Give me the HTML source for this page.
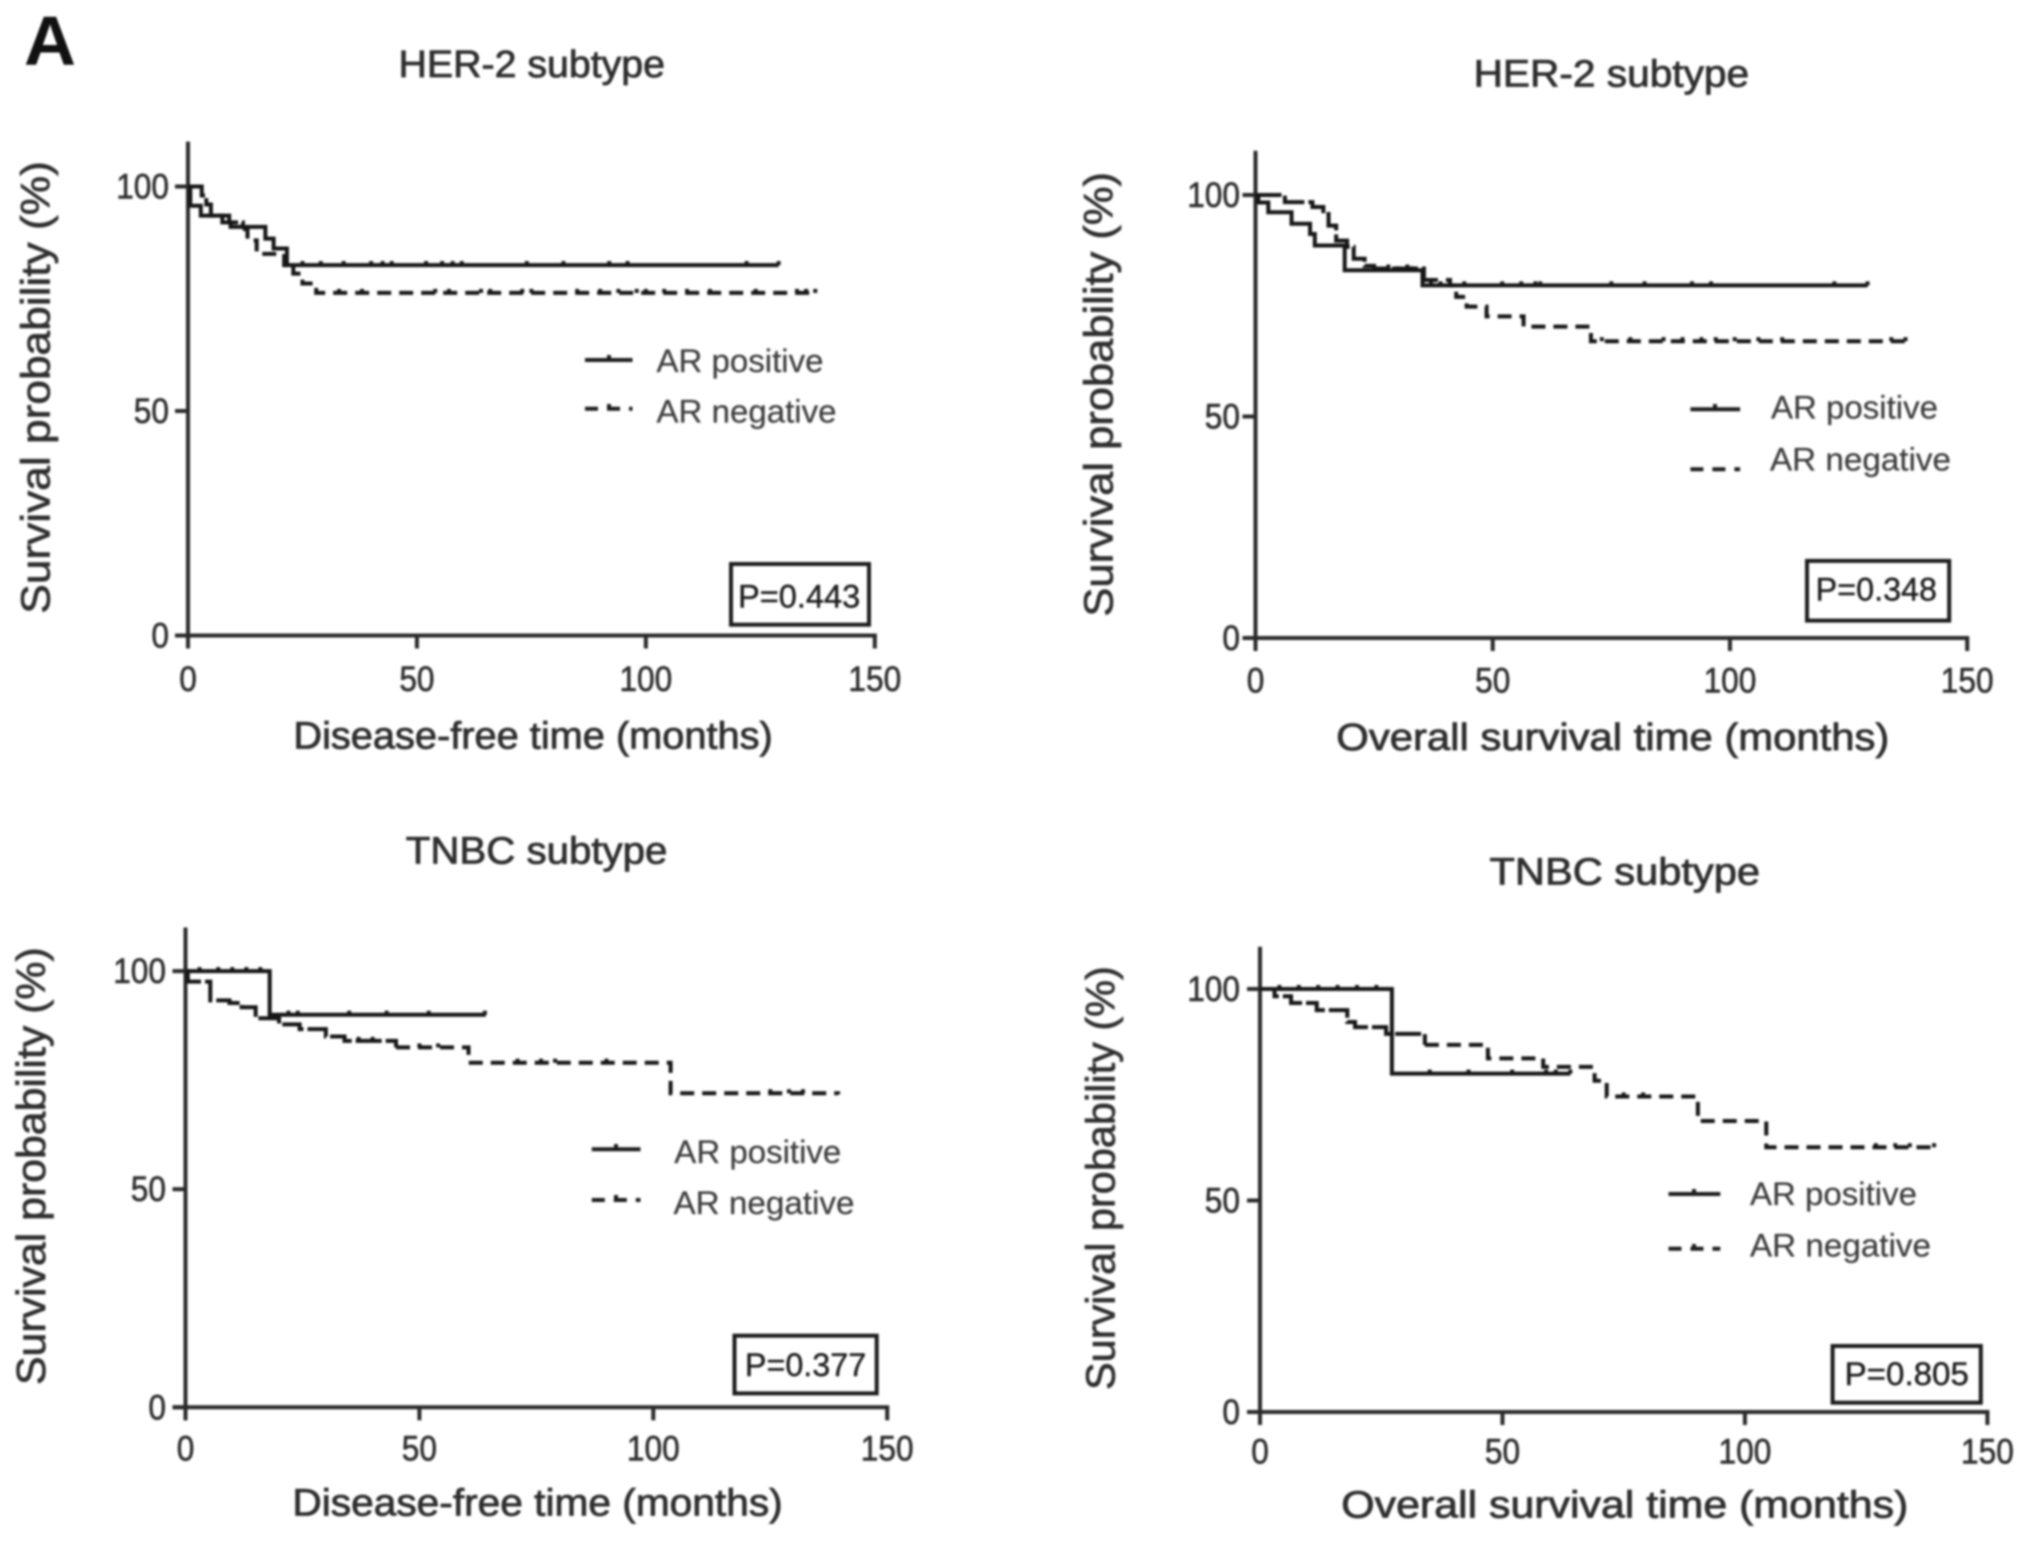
<!DOCTYPE html>
<html lang="en">
<head>
<meta charset="utf-8">
<title>Survival curves by AR status</title>
<style>
html,body{margin:0;padding:0;background:#fff;width:2031px;height:1541px;overflow:hidden}
svg{display:block;filter:blur(1px)}
text{font-family:"Liberation Sans",Arial,sans-serif;fill:#2e2e2e}
.title{font-size:38px;stroke:#2e2e2e;stroke-width:.8px}
.axt{font-size:38px;stroke:#2e2e2e;stroke-width:.8px}
.yt{font-size:41px;stroke:#333;stroke-width:.7px}
.tick{font-size:35px;stroke:#2e2e2e;stroke-width:.6px}
.leg{font-size:32px;fill:#3c3c3c;stroke:#3c3c3c;stroke-width:.2px}
.p{font-size:32px;fill:#1c1c1c;stroke:#1c1c1c;stroke-width:.4px}
.pbox{fill:none;stroke:#1c1c1c;stroke-width:4}
.legs{stroke:#1c1c1c;stroke-width:4;fill:none}
.legd{stroke:#1c1c1c;stroke-width:4;fill:none;stroke-dasharray:13 9}
</style>
</head>
<body>
<svg id="figure" xmlns="http://www.w3.org/2000/svg" width="2031" height="1541" viewBox="0 0 2031 1541">
<rect width="2031" height="1541" fill="#fff"/>
<text x="24" y="65" font-size="70" font-weight="bold" style="fill:#111" textLength="52" lengthAdjust="spacingAndGlyphs">A</text>

<g id="panelA">
<text class="title" x="398.5" y="77" textLength="266.5" lengthAdjust="spacingAndGlyphs">HER-2 subtype</text>
<text class="axt" x="293.4" y="748.5" textLength="479.4" lengthAdjust="spacingAndGlyphs">Disease-free time (months)</text>
<text class="yt" transform="translate(49.7,613.7) rotate(-90)" textLength="452.5" lengthAdjust="spacingAndGlyphs">Survival probability (%)</text>
<g>
<line class="legs" x1="585" x2="632.5" y1="360" y2="360"/>
<line class="legs" x1="609" x2="609" y1="355" y2="360"/>
<line class="legd" x1="585" x2="632.5" y1="408.8" y2="408.8"/>
<line class="legs" x1="609" x2="609" y1="404" y2="409"/>
<text class="leg" x="656.5" y="372" textLength="167" lengthAdjust="spacingAndGlyphs">AR positive</text>
<text class="leg" x="656.5" y="422.7" textLength="180" lengthAdjust="spacingAndGlyphs">AR negative</text>
</g>
<rect class="pbox" x="731" y="564" width="138" height="60.7"/>
<text class="p" x="738" y="607.7" textLength="122.3" lengthAdjust="spacingAndGlyphs">P=0.443</text>
</g>

<g id="panelB">
<text class="title" x="1473.6" y="86.5" textLength="275.5" lengthAdjust="spacingAndGlyphs">HER-2 subtype</text>
<text class="axt" x="1336.3" y="750" textLength="553" lengthAdjust="spacingAndGlyphs">Overall survival time (months)</text>
<text class="yt" transform="translate(1112.6,616.6) rotate(-90)" textLength="444.6" lengthAdjust="spacingAndGlyphs">Survival probability (%)</text>
<g>
<line class="legs" x1="1690.4" x2="1740.1" y1="409.3" y2="409.3"/>
<line class="legs" x1="1715" x2="1715" y1="404" y2="409"/>
<line class="legd" x1="1690.4" x2="1740.1" y1="469.3" y2="469.3"/>
<text class="leg" x="1771" y="418.5" textLength="167" lengthAdjust="spacingAndGlyphs">AR positive</text>
<text class="leg" x="1770" y="470.7" textLength="181" lengthAdjust="spacingAndGlyphs">AR negative</text>
</g>
<rect class="pbox" x="1807" y="560.9" width="142.2" height="59.7"/>
<text class="p" x="1815.7" y="600.7" textLength="121.3" lengthAdjust="spacingAndGlyphs">P=0.348</text>
</g>

<g id="panelC">
<text class="title" x="405.8" y="863.7" textLength="261.6" lengthAdjust="spacingAndGlyphs">TNBC subtype</text>
<text class="axt" x="292.4" y="1515.3" textLength="490.3" lengthAdjust="spacingAndGlyphs">Disease-free time (months)</text>
<text class="yt" transform="translate(44.8,1385) rotate(-90)" textLength="437.7" lengthAdjust="spacingAndGlyphs">Survival probability (%)</text>
<g>
<line class="legs" x1="591.8" x2="640.5" y1="1149.2" y2="1149.2"/>
<line class="legs" x1="616" x2="616" y1="1144" y2="1149"/>
<line class="legd" x1="591.8" x2="640.5" y1="1200" y2="1200"/>
<line class="legs" x1="616" x2="616" y1="1195" y2="1200"/>
<text class="leg" x="674.3" y="1163.1" textLength="167" lengthAdjust="spacingAndGlyphs">AR positive</text>
<text class="leg" x="673.5" y="1213.8" textLength="181" lengthAdjust="spacingAndGlyphs">AR negative</text>
</g>
<rect class="pbox" x="734.5" y="1335.7" width="142.2" height="57.7"/>
<text class="p" x="744.9" y="1376" textLength="121.3" lengthAdjust="spacingAndGlyphs">P=0.377</text>
</g>

<g id="panelD">
<text class="title" x="1489.5" y="884.6" textLength="270.5" lengthAdjust="spacingAndGlyphs">TNBC subtype</text>
<text class="axt" x="1341.3" y="1517.3" textLength="567" lengthAdjust="spacingAndGlyphs">Overall survival time (months)</text>
<text class="yt" transform="translate(1114.5,1390) rotate(-90)" textLength="423.8" lengthAdjust="spacingAndGlyphs">Survival probability (%)</text>
<g>
<line class="legs" x1="1668.5" x2="1720.3" y1="1194" y2="1194"/>
<line class="legs" x1="1694" x2="1694" y1="1189" y2="1194"/>
<line class="legd" x1="1668.5" x2="1720.3" y1="1248.7" y2="1248.7"/>
<line class="legs" x1="1694" x2="1694" y1="1244" y2="1249"/>
<text class="leg" x="1750" y="1204.9" textLength="167" lengthAdjust="spacingAndGlyphs">AR positive</text>
<text class="leg" x="1750" y="1256.6" textLength="181" lengthAdjust="spacingAndGlyphs">AR negative</text>
</g>
<rect class="pbox" x="1832.6" y="1346" width="148.2" height="56.7"/>
<text class="p" x="1844.6" y="1385" textLength="124.3" lengthAdjust="spacingAndGlyphs">P=0.805</text>
</g>
</svg>

<script>
// Shared axis values
const xTickValues = [0, 50, 100, 150];
const yTickValues = [0, 50, 100];
const xMax = 150;
const yMax = 100;
const yAxisTop = 110;

// Panel A: HER-2, disease-free
const aPosTime = [0, 0.5, 2.8, 7.5, 9.3, 11.3, 16.9, 18.7, 21.6, 129];
const aPosSurv = [100, 95.7, 93.5, 92, 91, 91, 88.4, 86.2, 82.5, 82.5];
const aPosCensor = [25, 29, 34, 40, 42.5, 44.5, 52, 55.5, 57.8, 59.8, 74, 82, 92, 96, 122, 129];
const aNegTime = [0, 3, 4, 5, 9, 12, 13, 15, 21, 23, 25, 28, 137];
const aNegSurv = [100, 98, 96, 93.5, 92, 90.5, 88, 85, 82.5, 80.6, 78.4, 76.3, 76.3];
const aNegCensor = [33, 38, 54, 57, 64, 66, 73, 75, 85, 90, 94, 98, 100, 104, 109, 114, 124, 133, 135, 137];

// Panel B: HER-2, overall
const bPosTime = [0, 0.6, 2.7, 7.6, 11.5, 12.5, 18.8, 35.2, 129];
const bPosSurv = [100, 98.3, 96.1, 93.5, 91.2, 88.6, 83, 79.6, 79.6];
const bPosCensor = [25, 30, 33, 37, 39, 41, 44, 52, 56, 59, 60, 75, 82, 92, 96, 122, 129];
const bNegTime = [0, 6.2, 10.8, 12, 14.3, 15.4, 17, 19.3, 20.7, 23, 25, 35.5, 41, 42.3, 44.5, 48.7, 56.5, 70.7, 138];
const bNegSurv = [100, 98.4, 98.4, 97.3, 95.7, 93.1, 89.7, 88.3, 85.6, 84, 83.4, 80.8, 79.6, 77, 74.8, 72.6, 70.3, 67, 66.7];
const bNegCensor = [28, 32, 73, 79, 86, 90, 94, 97, 101, 106, 111, 134, 137];

// Panel C: TNBC, disease-free
const cPosTime = [0, 18, 64.2];
const cPosSurv = [100, 90, 90];
const cPosCensor = [3, 7, 10, 13, 16, 22, 24, 35, 43, 52, 64];
const cNegTime = [0, 0.5, 5.3, 9.4, 12, 15, 20, 24.4, 30, 34, 45, 60.5, 103.7, 139.5];
const cNegSurv = [100, 97.6, 93.3, 92.7, 91.7, 89.2, 87.8, 86.7, 85, 84, 82.5, 79, 72, 71.7];
const cNegCensor = [37, 40, 50, 54, 71, 76, 79, 90, 125, 129, 132];

// Panel D: TNBC, overall
const dPosTime = [0, 27.2, 64];
const dPosSurv = [100, 80, 80];
const dPosCensor = [4, 8, 12, 16, 20, 24, 35, 43, 52, 59, 61, 64];
const dNegTime = [0, 3, 6.4, 11.7, 18, 19.6, 26, 34, 47, 58.4, 69, 71.5, 90.3, 104.4, 139];
const dNegSurv = [100, 98.3, 96.7, 95, 92.2, 91, 89.4, 86.8, 83.6, 81.6, 78.3, 74.6, 68.8, 62.6, 62.6];
const dNegCensor = [75, 79, 127, 131, 134, 139];

const SVG_NS = 'http://www.w3.org/2000/svg';

function make(tag, parent) {
  const node = document.createElementNS(SVG_NS, tag);
  parent.appendChild(node);
  return node;
}

function stepPath(time, surv, xScale, yScale, from, to) {
  let d = 'M' + xScale(time[from]) + ' ' + yScale(surv[from]);
  for (let i = from + 1; i <= to; i++) {
    d += ' H' + xScale(time[i]) + ' V' + yScale(surv[i]);
  }
  return d;
}

function buildPanel(cfg) {
  const root = document.getElementById(cfg.id);
  const xScale = function (t) { return cfg.x0 + (t / xMax) * (cfg.x1 - cfg.x0); };
  const yScale = function (s) { return cfg.y0 + (s / yMax) * (cfg.y100 - cfg.y0); };

  // Axes
  const yAxis = make('line', root);
  
  
  yAxis.setAttribute('x1', xScale(0));
  yAxis.setAttribute('x2', xScale(0));
  yAxis.setAttribute('y1', yScale(yAxisTop));
  yAxis.setAttribute('y2', yScale(0) + 13);
  yAxis.setAttribute('stroke', '#2a2a2a');
  yAxis.setAttribute('stroke-width', '4');

  const xAxis = make('line', root);
  
  
  xAxis.setAttribute('x1', xScale(0) - 13);
  xAxis.setAttribute('x2', xScale(xMax) + 2);
  xAxis.setAttribute('y1', yScale(0));
  xAxis.setAttribute('y2', yScale(0));
  xAxis.setAttribute('stroke', '#2a2a2a');
  xAxis.setAttribute('stroke-width', '4');

  xTickValues.forEach(function (v) {
    const tick = make('line', root);
    
    
    tick.setAttribute('x1', xScale(v));
    tick.setAttribute('x2', xScale(v));
    tick.setAttribute('y1', yScale(0));
    tick.setAttribute('y2', yScale(0) + 13);
    tick.setAttribute('stroke', '#2a2a2a');
    tick.setAttribute('stroke-width', '4');

    const label = make('text', root);
    
    
    label.setAttribute('class', 'tick');
    label.setAttribute('x', xScale(v));
    label.setAttribute('y', cfg.xLabelY);
    label.setAttribute('text-anchor', 'middle');
    label.setAttribute('textLength', String(v).length * 17.6);
    label.setAttribute('lengthAdjust', 'spacingAndGlyphs');
    label.textContent = String(v);
  });

  yTickValues.forEach(function (v) {
    const tick = make('line', root);
    
    
    tick.setAttribute('x1', xScale(0) - 13);
    tick.setAttribute('x2', xScale(0));
    tick.setAttribute('y1', yScale(v));
    tick.setAttribute('y2', yScale(v));
    tick.setAttribute('stroke', '#2a2a2a');
    tick.setAttribute('stroke-width', '4');

    const label = make('text', root);
    
    
    label.setAttribute('class', 'tick');
    label.setAttribute('x', cfg.yLabelX);
    label.setAttribute('y', yScale(v) + 12);
    label.setAttribute('text-anchor', 'end');
    label.setAttribute('textLength', String(v).length * 17.6);
    label.setAttribute('lengthAdjust', 'spacingAndGlyphs');
    label.textContent = String(v);
  });

  cfg.series.forEach(function (s) {
    const last = s.time.length - 1;
    let split = last;
    if (s.dashed) {
      split = 0;
      for (let i = 0; i <= last; i++) {
        if (s.time[i] <= cfg.denseUntil) { split = i; }
      }
    }

    const curve = make('path', root);
    
    
    curve.setAttribute('d', stepPath(s.time, s.surv, xScale, yScale, 0, split));
    curve.setAttribute('fill', 'none');
    curve.setAttribute('stroke', '#161616');
    curve.setAttribute('stroke-width', '4');
    if (s.dashed) {
      curve.setAttribute('stroke-dasharray', '26 4');
    }

    if (s.dashed && split < last) {
      const tail = make('path', root);
      
      
      tail.setAttribute('d', stepPath(s.time, s.surv, xScale, yScale, split, last));
      tail.setAttribute('fill', 'none');
      tail.setAttribute('stroke', '#161616');
      tail.setAttribute('stroke-width', '4');
      tail.setAttribute('stroke-dasharray', '14 8');
    }

    s.censor.forEach(function (t) {
      let level = s.surv[0];
      for (let i = 0; i < s.time.length; i++) {
        if (s.time[i] <= t) { level = s.surv[i]; }
      }
      const mark = make('line', root);
      
      
      mark.setAttribute('x1', xScale(t));
      mark.setAttribute('x2', xScale(t));
      mark.setAttribute('y1', yScale(level) - 4);
      mark.setAttribute('y2', yScale(level));
      mark.setAttribute('stroke', '#161616');
      mark.setAttribute('stroke-width', '4');
    });
  });
}

buildPanel({ id: 'panelA', x0: 188, x1: 874.8, y0: 635.5, y100: 186.5, xLabelY: 691, yLabelX: 169, denseUntil: 12,
  series: [
    { name: 'ar-positive', time: aPosTime, surv: aPosSurv, censor: aPosCensor, dashed: false },
    { name: 'ar-negative', time: aNegTime, surv: aNegSurv, censor: aNegCensor, dashed: true }
  ] });
buildPanel({ id: 'panelB', x0: 1255.5, x1: 1967.2, y0: 638, y100: 195, xLabelY: 692.3, yLabelX: 1240, denseUntil: 36,
  series: [
    { name: 'ar-positive', time: bPosTime, surv: bPosSurv, censor: bPosCensor, dashed: false },
    { name: 'ar-negative', time: bNegTime, surv: bNegSurv, censor: bNegCensor, dashed: true }
  ] });
buildPanel({ id: 'panelC', x0: 185.5, x1: 887.2, y0: 1407.3, y100: 971.1, xLabelY: 1460.6, yLabelX: 166, denseUntil: 45,
  series: [
    { name: 'ar-positive', time: cPosTime, surv: cPosSurv, censor: cPosCensor, dashed: false },
    { name: 'ar-negative', time: cNegTime, surv: cNegSurv, censor: cNegCensor, dashed: true }
  ] });
buildPanel({ id: 'panelD', x0: 1260, x1: 1987.4, y0: 1412, y100: 989, xLabelY: 1463.6, yLabelX: 1240, denseUntil: 34,
  series: [
    { name: 'ar-positive', time: dPosTime, surv: dPosSurv, censor: dPosCensor, dashed: false },
    { name: 'ar-negative', time: dNegTime, surv: dNegSurv, censor: dNegCensor, dashed: true }
  ] });
</script>
</body>
</html>
